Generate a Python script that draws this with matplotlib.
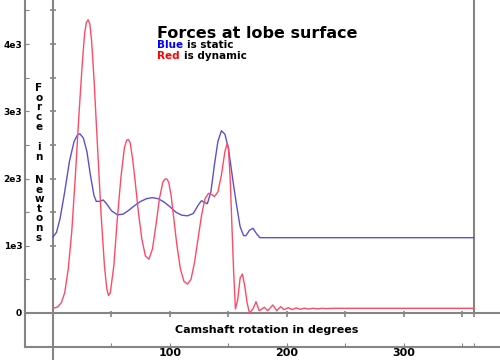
import numpy as np
import matplotlib
matplotlib.use("Agg")
import matplotlib.pyplot as plt

# static force (blue)
static_deg = [0, 3, 6, 10, 14, 18, 21, 23, 26, 29, 32, 35, 37, 40, 43, 46, 50, 55, 60,
              65, 70, 75, 80, 85, 90, 95, 100, 105, 110, 115, 120, 124, 127, 130, 132,
              135, 138, 141, 144, 147, 150, 154, 157, 160, 163, 165, 168, 171, 174, 177, 360]
static_force = [1130, 1200, 1400, 1800, 2250, 2550, 2650, 2665, 2600, 2400, 2050, 1750,
                1660, 1660, 1680, 1620, 1520, 1460, 1470, 1530, 1600, 1660, 1700, 1715,
                1700, 1650, 1580, 1500, 1455, 1445, 1480, 1600, 1670, 1640, 1625, 1800,
                2200, 2550, 2710, 2660, 2450, 1950, 1600, 1285, 1150, 1150, 1230, 1260,
                1180, 1120, 1120]

# dynamic force (red)
dyn_deg = [0, 4, 7, 10, 13, 16, 19, 22, 25, 27, 28.5, 30, 31.5, 33, 35, 38, 41, 44, 46,
           47.5, 49, 52, 55, 58, 61, 63, 64.5, 66, 68, 70, 73, 76, 79, 82, 85, 88, 91, 94,
           96, 97.5, 99, 101, 103, 106, 109, 112, 115, 118, 121, 124, 127, 130, 133, 136,
           138, 141, 144, 147, 149, 150, 151.5, 153, 154.5, 156, 158, 160, 162, 164, 166,
           168, 171, 173.6, 176.4, 180.7, 183.6, 188, 191.3, 194.7, 197.5, 201.2, 204.5,
           208, 211.5, 215, 218.5, 222, 226, 230, 234, 240, 360]
dyn_force = [70, 90, 150, 300, 650, 1200, 2000, 2900, 3700, 4150, 4320, 4360, 4300, 4050,
             3500, 2500, 1500, 700, 360, 260, 300, 700, 1400, 2000, 2450, 2570, 2580, 2530,
             2300, 2000, 1500, 1100, 850, 800, 950, 1300, 1700, 1950, 1995, 1990, 1940,
             1750, 1450, 1000, 650, 470, 430, 500, 750, 1100, 1450, 1700, 1780, 1760, 1730,
             1800, 2050, 2400, 2525, 2450, 2000, 1300, 600, 60, 200, 520, 580, 400, 150, 0,
             60, 168, 34, 85, 34, 119, 34, 94, 50, 78, 52, 75, 55, 72, 58, 70, 62, 70, 65,
             70, 70]

ytick_vals = [0, 500, 1000, 1500, 2000, 2500, 3000, 3500, 4000, 4500]
ytick_labels = ['0', '', '1e3', '', '2e3', '', '3e3', '', '4e3', '']
xtick_vals = [50, 100, 150, 200, 250, 300, 350, 360]
xtick_labels = ['', '100', '', '200', '', '300', '', '']

grey = '#858585'
fig = plt.figure(figsize=(5, 3.6), dpi=100)
ax = fig.add_axes([0, 0, 1, 1])

# pixel -> data helpers (x: 0 deg at px 53, y: 0 N at px 313)
def xd(px):
    return (px - 53) / 1.1694

def yd(py):
    return (313 - py) / 0.06725

ax.set_xlim(xd(0), xd(500))
ax.set_ylim(yd(360), yd(0))

for s in ['top', 'right']:
    ax.spines[s].set_visible(False)
ax.spines['left'].set_position(('data', xd(25)))
ax.spines['left'].set_bounds(yd(347), yd(0))
ax.spines['bottom'].set_position(('data', yd(347)))
ax.spines['bottom'].set_bounds(xd(25), xd(500))
for s in ['left', 'bottom']:
    ax.spines[s].set_color(grey)
    ax.spines[s].set_linewidth(1.5)

ax.set_yticks(ytick_vals)
ax.set_yticklabels(ytick_labels)
ax.set_xticks(xtick_vals)
ax.set_xticklabels(xtick_labels)
ax.tick_params(axis='y', direction='in', length=3, color=grey, pad=2,
               labelsize=6.5)
ax.tick_params(axis='x', direction='in', length=3, color=grey, pad=1,
               labelsize=8)
for lab in ax.get_xticklabels() + ax.get_yticklabels():
    lab.set_fontweight('heavy')

# inner axes lines
ax.axvline(0, color=grey, lw=1.5)
ax.plot([xd(25), xd(500)], [0, 0], color=grey, lw=1.5)
ax.plot([360, 360], [0, yd(0)], color=grey, lw=1.5)
ax.plot(np.zeros(len(ytick_vals)), ytick_vals, ls='', marker='_', ms=5,
        mew=1.2, color=grey)
ax.plot(xtick_vals, np.zeros(len(xtick_vals)) - 15, ls='', marker='|', ms=4,
        mew=1.2, color=grey)

ax.plot(static_deg, static_force, color='#5a50d2', lw=1)
ax.plot(dyn_deg, dyn_force, color='#ff4a66', lw=1)

# titles
ax.text(xd(157), yd(33), 'Forces at lobe surface', fontsize=11.5,
        fontweight='heavy', va='center', ha='left')
ax.text(xd(157), yd(45), 'Blue', color='#0000ff', fontsize=7.5,
        fontweight='heavy', va='center', ha='left')
ax.text(xd(187), yd(45), 'is static', fontsize=7.5,
        fontweight='heavy', va='center', ha='left')
ax.text(xd(157), yd(56), 'Red', color='#ff0000', fontsize=7.5,
        fontweight='heavy', va='center', ha='left')
ax.text(xd(184), yd(56), 'is dynamic', fontsize=7.5,
        fontweight='heavy', va='center', ha='left')

ax.text(xd(267), yd(330), 'Camshaft rotation in degrees', fontsize=8,
        fontweight='heavy', va='center', ha='center')

# stacked y label
ylab_rows = [('F', 88), ('o', 98), ('r', 107), ('c', 117), ('e', 127),
             ('i', 147), ('n', 157),
             ('N', 180), ('e', 190), ('w', 199), ('t', 209), ('o', 218),
             ('n', 228), ('s', 238)]
for ch, py in ylab_rows:
    ax.text(xd(39), yd(py), ch, fontsize=7.5, fontweight='heavy',
            va='center', ha='center')

fig.savefig('out.png', dpi=100)
